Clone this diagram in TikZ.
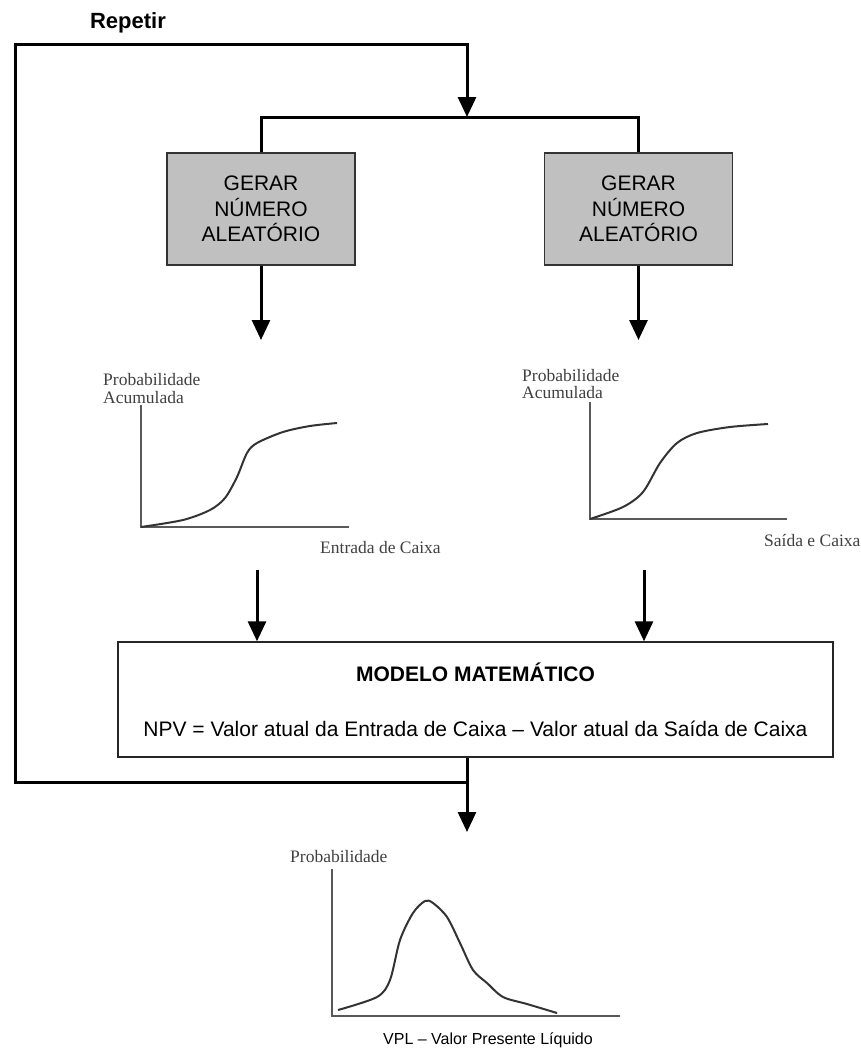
\documentclass[tikz,border=0pt]{standalone}
\usepackage{fontspec}
\setsansfont{Liberation Sans}
\newfontfamily\serifa{Liberation Serif}
\usetikzlibrary{arrows.meta}
\definecolor{cinza}{HTML}{C0C0C0}

\begin{document}
\begin{tikzpicture}[x=1pt,y=-1pt,
	conn/.style={line width=3pt},
	>={Triangle[width=18pt,length=20pt]},
	gerar/.style={draw=black!80,line width=1.2pt,fill=cinza,minimum width=188pt,minimum height=112pt,align=center,font=\sffamily\fontsize{21}{25.5}\selectfont},
	eixo/.style={draw=black!65,line width=1.5pt},
	curva/.style={black!80,line width=2pt},
	rotulo/.style={anchor=west,inner sep=0pt,text=black!75,font=\serifa\fontsize{17.5}{18}\selectfont}]
	\useasboundingbox (0,0) rectangle (861,1049);
	% caixas
	\node[font=\sffamily\bfseries\fontsize{22}{26}\selectfont] (repetir) at (128,23) {Repetir};
	\node[gerar] (gerar1) at (261,209) {GERAR\\NÚMERO\\ALEATÓRIO};
	\node[gerar] (gerar2) at (638.5,209) {GERAR\\NÚMERO\\ALEATÓRIO};
	\node[draw=black!85,line width=1.4pt,minimum width=715pt,minimum height=115pt,align=center,font=\sffamily\fontsize{21}{25}\selectfont] (modelo) at (475.5,699.5) {{\bfseries MODELO MATEMÁTICO}\\[30pt]NPV = Valor atual da Entrada de Caixa -- Valor atual da Saída de Caixa};
	% pontos do laco
	\coordinate (divisao) at (467,117);
	\coordinate (juncao) at (467,782);
	\coordinate (canto1) at (15,782);
	\coordinate (canto2) at (15,45);
	\coordinate (canto3) at (467,45);
	\coordinate (cdf1) at (261,340);
	\coordinate (cdf2) at (638.5,340);
	\coordinate (saida1) at (257,570);
	\coordinate (saida2) at (644,570);
	\coordinate (vpl) at (467,832);
	% ligacoes
	\draw[conn,->] (juncao) -- (canto1) -- (canto2) -- (canto3) -- (divisao);
	\draw[conn] (gerar1.north) |- (divisao) -| (gerar2.north);
	\draw[conn,->] (gerar1.south) -- (cdf1);
	\draw[conn,->] (gerar2.south) -- (cdf2);
	\draw[conn,->] (saida1) -- (saida1 |- modelo.north);
	\draw[conn,->] (saida2) -- (saida2 |- modelo.north);
	\draw[conn] (modelo.south -| juncao) -- (juncao);
	\draw[conn,->] (juncao) -- (vpl);
	% grafico 1
	\node[rotulo] (prob1) at (103,380) {Probabilidade};
	\node[rotulo] (acum1) at (103,398) {Acumulada};
	\node[rotulo] (entrada) at (320,548) {Entrada de Caixa};
	\draw[eixo] (141,405) -- (141,527) -- (349,527);
	\draw[curva] plot[smooth] coordinates {(141,527) (183,520) (210,510) (225,498) (237,477) (247,453) (257,443) (283,432) (310,426) (337,423)};
	% grafico 2
	\node[rotulo] (prob2) at (522,376) {Probabilidade};
	\node[rotulo] (acum2) at (522,393) {Acumulada};
	\node[rotulo] (saidacx) at (764,540) {Saída e Caixa};
	\draw[eixo] (590,402) -- (590,519) -- (787,519);
	\draw[curva] plot[smooth] coordinates {(590,519) (623,507) (643,492) (660,463) (677,443) (697,433) (730,427) (768,424)};
	% grafico 3
	\node[rotulo] (prob3) at (290,857) {Probabilidade};
	\node[font=\sffamily\fontsize{16}{19}\selectfont] (vplrot) at (488,1040) {VPL -- Valor Presente Líquido};
	\draw[eixo] (332,869) -- (332,1016) -- (620,1016);
	\draw[curva] plot[smooth] coordinates {(338,1010) (377,997) (390,980) (400,940) (413,913) (425,901) (433,903) (447,917) (460,943) (473,970) (487,983) (503,997) (527,1004) (557,1013)};
\end{tikzpicture}
\end{document}
